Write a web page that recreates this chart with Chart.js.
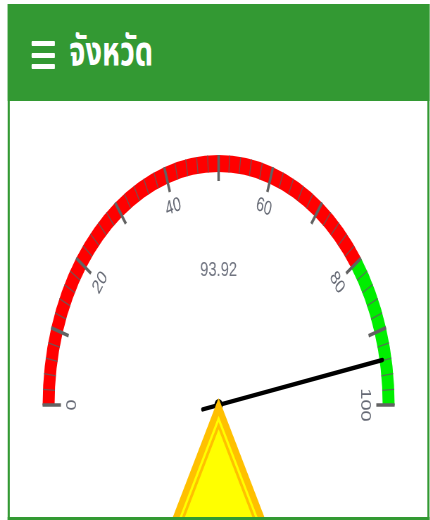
<!DOCTYPE html>
<html>
<head>
<meta charset="utf-8">
<script src="https://cdn.jsdelivr.net/npm/chart.js@4/dist/chart.umd.min.js"></script>
<style>
  html, body { margin: 0; padding: 0; background: #fff; width: 430px; height: 520px; overflow: hidden; }
  #page { position: absolute; left: 0; top: 0; width: 611px; height: 520px; transform: scaleX(0.704); transform-origin: 0 0; }
  #panel { position: absolute; left: 10.5px; top: 4px; width: 599px; height: 515.5px; box-sizing: border-box; border: 3px solid #339933; border-top: 0; background: #fff; }
  #header { position: absolute; left: -3px; top: 0; width: 599px; height: 97px; background: #339933; }
  .bar { position: absolute; left: 34px; width: 33px; height: 5px; background: #fff; border-radius: 1px; }
  #title { position: absolute; left: 88px; top: 22px; color: #fff; font: bold 41px "Noto Sans Thai", "Noto Sans", "DejaVu Sans", sans-serif; line-height: 52px; white-space: nowrap; }
  #gauge { position: absolute; left: 0; top: 97px; }
</style>
</head>
<body>
<div id="page">
  <div id="panel">
    <div id="header">
      <div class="bar" style="top:37px"></div>
      <div class="bar" style="top:48.5px"></div>
      <div class="bar" style="top:60px"></div>
      <div id="title">จังหวัด</div>
    </div>
    <canvas id="gauge" width="593" height="416"></canvas>
  </div>
</div>
<script>
// gauge data
const gaugeMin = 0;
const gaugeMax = 100;
const gaugeValue = 93.92;
const bandLimits = [80, 100];          // red up to 80, green up to 100
const bandColors = ['#ff0000', '#00ee00'];
const tickLabels = ['0', '20', '40', '60', '80', '100'];
const majorStep = 10;
const minorStep = 2;

// band sizes from the limits
const bandSizes = bandLimits.map((v, i) => v - (i === 0 ? gaugeMin : bandLimits[i - 1]));

const gaugePlugin = {
    id: 'gaugeDecor',
    afterDatasetsDraw(chart) {
        const ctx = chart.ctx;
        const arcs = chart.getDatasetMeta(0).data;
        const first = arcs[0];
        const last = arcs[arcs.length - 1];
        const cx = first.x, cy = first.y;
        const outer = first.outerRadius, inner = first.innerRadius;
        const a0 = first.startAngle, a1 = last.endAngle;
        const toAngle = v => a0 + (v - gaugeMin) / (gaugeMax - gaugeMin) * (a1 - a0);

        ctx.save();
        // minor ticks across the band
        ctx.strokeStyle = 'rgba(95,95,95,0.85)';
        ctx.lineWidth = 1.3;
        for (let v = gaugeMin; v <= gaugeMax; v += minorStep) {
            const a = toAngle(v);
            ctx.beginPath();
            ctx.moveTo(cx + Math.cos(a) * inner, cy + Math.sin(a) * inner);
            ctx.lineTo(cx + Math.cos(a) * outer, cy + Math.sin(a) * outer);
            ctx.stroke();
        }
        // major ticks
        ctx.strokeStyle = '#626262';
        ctx.lineWidth = 3.5;
        for (let v = gaugeMin; v <= gaugeMax; v += majorStep) {
            const a = toAngle(v);
            ctx.beginPath();
            ctx.moveTo(cx + Math.cos(a) * (inner - 9), cy + Math.sin(a) * (inner - 9));
            ctx.lineTo(cx + Math.cos(a) * outer, cy + Math.sin(a) * outer);
            ctx.stroke();
        }
        // labels
        ctx.fillStyle = '#666a75';
        ctx.font = '20px "Liberation Sans", Arial, sans-serif';
        ctx.textAlign = 'center';
        ctx.textBaseline = 'middle';
        tickLabels.forEach(lbl => {
            const a = toAngle(Number(lbl));
            ctx.save();
            ctx.translate(cx, cy);
            ctx.rotate(a + Math.PI / 2);
            ctx.fillText(lbl, 0, -(inner - 25));
            ctx.restore();
        });
        // value text
        ctx.fillStyle = '#707480';
        ctx.font = '21px "Liberation Sans", Arial, sans-serif';
        ctx.fillText(gaugeValue.toFixed(2), cx, cy - 135);

        // needle
        const na = toAngle(gaugeValue);
        ctx.strokeStyle = '#000';
        ctx.lineWidth = 4.5;
        ctx.lineCap = 'round';
        ctx.beginPath();
        ctx.moveTo(cx - Math.cos(na) * 23, cy - Math.sin(na) * 23);
        ctx.lineTo(cx + Math.cos(na) * (outer - 13), cy + Math.sin(na) * (outer - 13));
        ctx.stroke();
        ctx.fillStyle = '#000';
        ctx.beginPath();
        ctx.arc(cx, cy, 6, 0, Math.PI * 2);
        ctx.fill();

        // yellow pointer triangle under the hub
        const apexY = cy - 7;
        const baseY = apexY + 170;
        const slope = 0.546;
        const sinHalf = Math.sin(Math.atan(slope));
        const layers = [[0, '#ffc000'], [8.5, '#ffff00'], [11.5, '#ffc000'], [15, '#ffff00']];
        layers.forEach(([d, col]) => {
            const ay = apexY + d / sinHalf;
            const hw = (baseY - ay) * slope;
            ctx.fillStyle = col;
            ctx.beginPath();
            ctx.moveTo(cx, ay);
            ctx.lineTo(cx + hw, baseY);
            ctx.lineTo(cx - hw, baseY);
            ctx.closePath();
            ctx.fill();
        });
        ctx.restore();
    }
};

new Chart(document.getElementById('gauge'), {
    type: 'doughnut',
    data: {
        labels: ['0-80', '80-100'],
        datasets: [{
            data: bandSizes,
            backgroundColor: bandColors,
            borderWidth: 0
        }]
    },
    options: {
        responsive: false,
        animation: false,
        devicePixelRatio: 1,
        rotation: -90,
        circumference: 180,
        radius: 250,
        cutout: '93.2%',
        layout: { padding: { bottom: 58 } },
        plugins: {
            legend: { display: false },
            tooltip: { enabled: false }
        }
    },
    plugins: [gaugePlugin]
});
</script>
</body>
</html>
